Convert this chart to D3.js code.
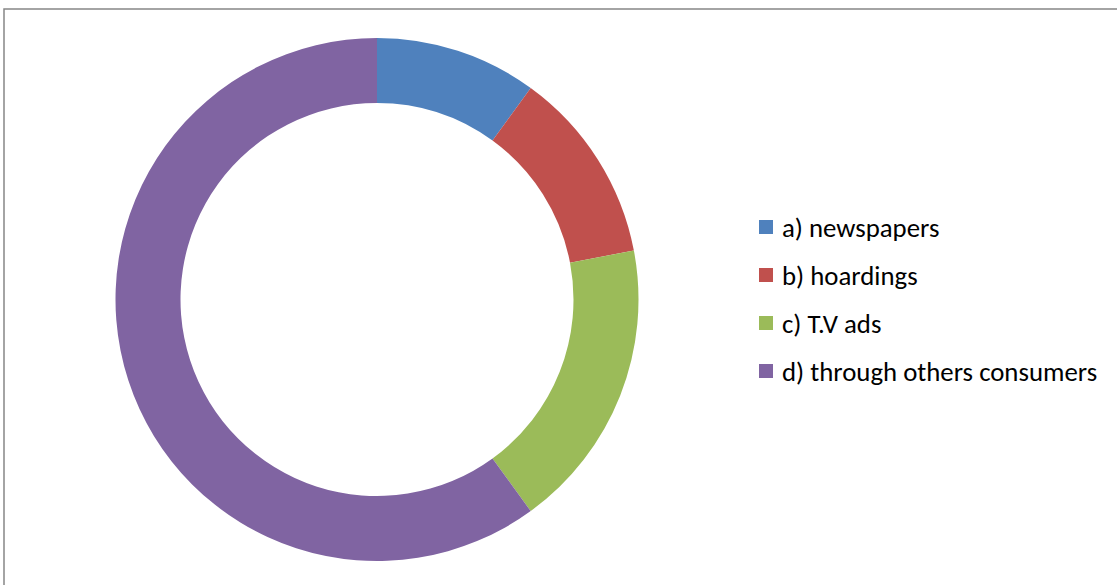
<!DOCTYPE html>
<html>
<head>
<meta charset="utf-8">
<script src="https://cdn.jsdelivr.net/npm/d3@7"></script>
<style>
  html, body { margin: 0; padding: 0; background: #fff; }
  svg { display: block; }
</style>
</head>
<body>
<svg id="chart" width="1117" height="585"></svg>
<script>
// Sources through which consumers learn about the product
const categories = ["a) newspapers", "b) hoardings", "c) T.V ads", "d) through others consumers"];
const shares = [10, 12, 18, 60];
const colors = ["#4F81BD", "#C0504D", "#9BBB59", "#8064A2"];

const svg = d3.select("#chart");

// chart area frame
svg.append("rect")
  .attr("x", 4).attr("y", 9)
  .attr("width", 1130).attr("height", 600)
  .attr("fill", "#fff")
  .attr("stroke", "#878787")
  .attr("stroke-width", 1.5);

const cx = 377, cy = 299.5;
const outerR = 261.5, innerR = 196.5;

const data = categories.map((c, i) => ({ category: c, value: shares[i] }));

const pie = d3.pie().sort(null).value(d => d.value).startAngle(0).endAngle(2 * Math.PI);
const arc = d3.arc().innerRadius(innerR).outerRadius(outerR);
const color = d3.scaleOrdinal().domain(categories).range(colors);

svg.append("g")
  .attr("transform", `translate(${cx},${cy})`)
  .selectAll("path")
  .data(pie(data))
  .join("path")
  .attr("d", arc)
  .attr("fill", d => color(d.data.category));

// legend
const legendX = 759, legendY0 = 227, rowGap = 48;
const legend = svg.append("g");
const rows = legend.selectAll("g")
  .data(categories)
  .join("g")
  .attr("transform", (d, i) => `translate(${legendX},${legendY0 + i * rowGap})`);

rows.append("rect")
  .attr("x", 0).attr("y", -7)
  .attr("width", 14).attr("height", 14)
  .attr("fill", d => color(d));

rows.append("text")
  .attr("x", 23).attr("y", 0)
  .attr("dy", "0.36em")
  .attr("font-family", "Carlito, Calibri, Lato, sans-serif")
  .attr("font-size", 26.8)
  .attr("fill", "#000")
  .text(d => d);
</script>
</body>
</html>
